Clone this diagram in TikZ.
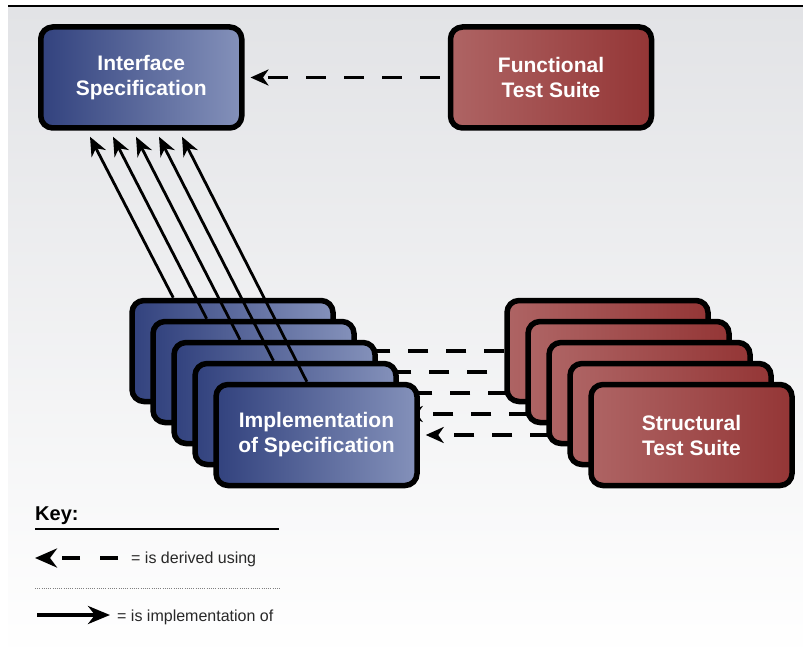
\documentclass[tikz,border=0pt]{standalone}
\usepackage{fontspec}
\setmainfont{Liberation Sans}
\usetikzlibrary{arrows.meta,calc}
\definecolor{blueL}{RGB}{50,66,126}
\definecolor{blueR}{RGB}{132,145,186}
\definecolor{redL}{RGB}{174,100,100}
\definecolor{redR}{RGB}{148,54,54}
\definecolor{bgtop}{RGB}{226,227,230}
\definecolor{keytext}{RGB}{40,40,40}
\pgfdeclarelayer{base}
\pgfdeclarelayer{lines}
\pgfsetlayers{base,lines,main}
\begin{document}
\begin{tikzpicture}[x=1pt,y=-1pt,
  box/.style={draw=black, line width=5.5pt, rounded corners=12pt,
    minimum width=201pt, minimum height=101pt, inner sep=0pt, align=center,
    text=white, font=\fontsize{21}{25}\selectfont\bfseries},
  bluebox/.style={box, left color=blueL, right color=blueR},
  redbox/.style={box, left color=redL, right color=redR},
  derived/.style={line width=3.5pt, dash pattern=on 20pt off 18pt,
    -{Stealth[length=18pt,width=16pt,inset=5.5pt]}, shorten >=6pt},
  impl/.style={line width=2.8pt, -{Stealth[length=19pt,width=16pt,inset=6pt]}},
  keylabel/.style={inner sep=0pt, anchor=base west, text=keytext, font=\fontsize{16}{19}\selectfont},
]
\useasboundingbox (0,0) rectangle (803,658);
\begin{pgfonlayer}{base}
  \fill[white] (0,0) rectangle (803,658);
  \shade[top color=bgtop, bottom color=white] (8,7) rectangle (803,658);
  \draw[line width=2pt] (8,6.5) -- (803,6.5);
\end{pgfonlayer}

% top boxes
\node[bluebox] (iface) at (141.25,77.5) {Interface\\Specification};
\node[redbox] (func) at (551,77.5) {Functional\\Test Suite};

% stacks
\foreach \k in {0,...,3} {
  \node[bluebox] (imp\k) at ({316.5-21*(4-\k)},{435-21*(4-\k)}) {};
  \node[redbox] (str\k) at ({691.5-21*(4-\k)},{435-21*(4-\k)}) {};
}
\node[bluebox] (imp4) at (316.5,435) {Implementation\\of Specification};
\node[redbox] (str4) at (691.5,435) {Structural\\Test Suite};

% derived-using connectors (behind boxes)
\begin{pgfonlayer}{lines}
  \draw[derived, shorten <=8pt] (func.west) -- (iface.east);
  \foreach \k in {0,...,4}
    \draw[derived] (str\k.west) -- (imp\k.east);
\end{pgfonlayer}

% implementation-of connectors
\foreach \k in {0,...,4}
  \draw[impl] ($(imp\k.north west)+({44+12.4*\k},0)$) -- ($(iface.south west)+({52+23*\k},6)$);

% key
\node[inner sep=0pt, anchor=base west, font=\fontsize{20}{24}\selectfont\bfseries] (keyt) at (35,520) {Key:};
\coordinate (ka) at (35,529);
\coordinate (kb) at (279,529);
\draw[line width=1.2pt] (ka) -- (kb);
\coordinate (da) at (118,558);
\coordinate (db) at (35,558);
\draw[line width=4pt, dash pattern=on 18pt off 20pt, -{Stealth[length=22pt,width=19pt,inset=7pt]}] (da) -- (db);
\node[keylabel] (t1) at (131,563) {= is derived using};
\coordinate (dota) at (35,588);
\coordinate (dotb) at (280,588);
\draw[line width=0.8pt, gray, dash pattern=on 1pt off 1.2pt] (dota) -- (dotb);
\coordinate (sa) at (37,615);
\coordinate (sb) at (110,615);
\draw[line width=4pt, -{Stealth[length=22pt,width=18pt,inset=7pt]}] (sa) -- (sb);
\node[keylabel] (t2) at (117,621) {= is implementation of};
\end{tikzpicture}
\end{document}
